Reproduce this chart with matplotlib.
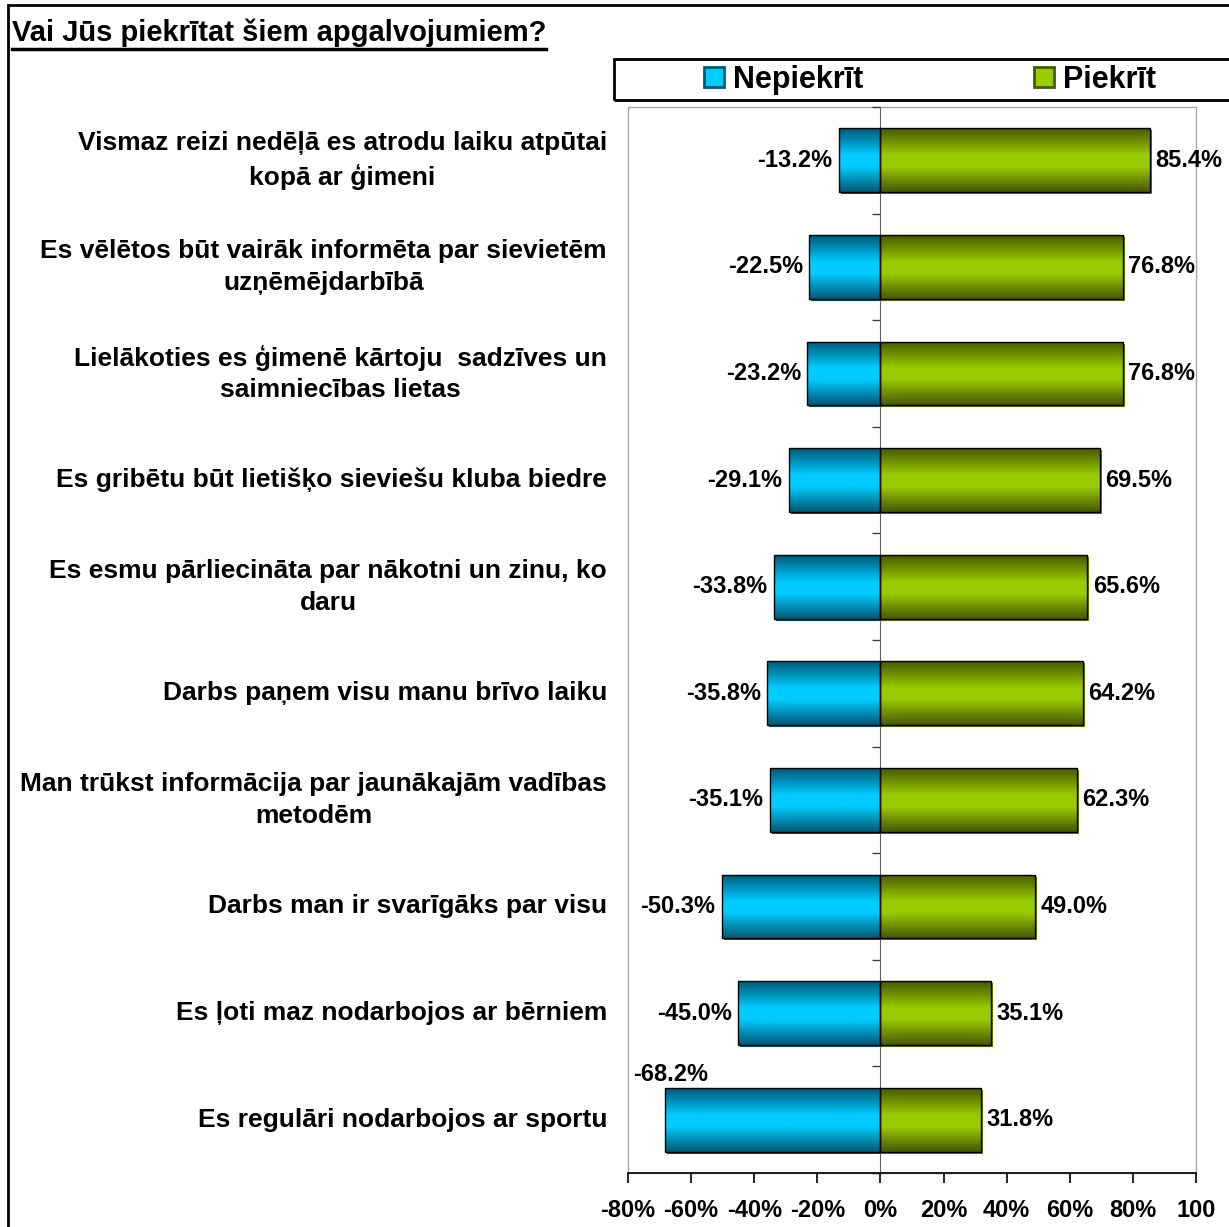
import matplotlib
matplotlib.use('Agg')
import matplotlib.pyplot as plt
import numpy as np
from matplotlib.colors import LinearSegmentedColormap
from matplotlib.patches import Rectangle, Patch
from matplotlib.lines import Line2D
from matplotlib import transforms

plt.rcParams['font.family'] = ['Liberation Sans', 'DejaVu Sans']
plt.rcParams['font.weight'] = 'bold'

title = 'Vai Jūs piekrītat šiem apgalvojumiem?'
statements = [
    'Vismaz reizi nedēļā es atrodu laiku atpūtai\nkopā ar ģimeni',
    'Es vēlētos būt vairāk informēta par sievietēm\nuzņēmējdarbībā',
    'Lielākoties es ģimenē kārtoju  sadzīves un\nsaimniecības lietas',
    'Es gribētu būt lietišķo sieviešu kluba biedre',
    'Es esmu pārliecināta par nākotni un zinu, ko\ndaru',
    'Darbs paņem visu manu brīvo laiku',
    'Man trūkst informācija par jaunākajām vadības\nmetodēm',
    'Darbs man ir svarīgāks par visu',
    'Es ļoti maz nodarbojos ar bērniem',
    'Es regulāri nodarbojos ar sportu',
]
disagree = [-13.2, -22.5, -23.2, -29.1, -33.8, -35.8, -35.1, -50.3, -45.0, -68.2]
agree = [85.4, 76.8, 76.8, 69.5, 65.6, 64.2, 62.3, 49.0, 35.1, 31.8]
series_names = ['Nepiekrīt', 'Piekrīt']
x_ticks = [-80, -60, -40, -20, 0, 20, 40, 60, 80, 100]
x_tick_labels = ['-80%', '-60%', '-40%', '-20%', '0%', '20%', '40%', '60%', '80%', '100']

blue_dark, blue_light = '#005a78', '#00ccff'
green_dark, green_light = '#4a5800', '#99cc00'

W, H = 1229, 1227
fig = plt.figure(figsize=(W / 100, H / 100), dpi=100, facecolor='white')
ax = fig.add_axes([628 / W, 1 - 1173 / H, (1196 - 628) / W, (1173 - 107) / H])

y = np.arange(len(statements))
bar_h = 0.6


def gradient_fill(bars, dark, light):
    # dark top and bottom, bright band a little above the middle
    cmap = LinearSegmentedColormap.from_list(
        'band', [(0, dark), (0.4, light), (0.58, light), (1, dark)])
    prof = np.linspace(0, 1, 64)[:, None]
    for bar in bars:
        x0, y0 = bar.get_x(), bar.get_y()
        img = ax.imshow(prof, cmap=cmap, aspect='auto', interpolation='bilinear',
                        extent=(x0, x0 + bar.get_width(), y0 + bar.get_height(), y0),
                        origin='lower', zorder=2.5)
        img.set_clip_path(bar)


# drop shadow, shifted right/down by 2 px
shadow = transforms.offset_copy(ax.transData, fig=fig, x=2, y=-2, units='dots')
ax.barh(y, disagree, height=bar_h, color=blue_dark, transform=shadow, zorder=2)
ax.barh(y, agree, height=bar_h, color='#667f00', transform=shadow, zorder=2)

neg_bars = ax.barh(y, disagree, height=bar_h, facecolor='none', edgecolor='black',
                   linewidth=1, zorder=3)
pos_bars = ax.barh(y, agree, height=bar_h, facecolor='none', edgecolor='black',
                   linewidth=1, zorder=3)
gradient_fill(neg_bars, blue_dark, blue_light)
gradient_fill(pos_bars, green_dark, green_light)

ax.set_xlim(-80, 100)
ax.set_ylim(len(statements) - 0.5, -0.5)

# value labels
for i, v in enumerate(disagree):
    if v - 25 < ax.get_xlim()[0]:
        ax.annotate(f'{v:.1f}%', xy=(ax.get_xlim()[0], i - bar_h / 2), xytext=(4, 1),
                    textcoords='offset points', ha='left', va='bottom', fontsize=17)
    else:
        ax.annotate(f'{v:.1f}%', xy=(v, i), xytext=(-4.5, 0), textcoords='offset points',
                    ha='right', va='center', fontsize=17)
for i, v in enumerate(agree):
    ax.annotate(f'{v:.1f}%', xy=(v, i), xytext=(4, 0), textcoords='offset points',
                ha='left', va='center', fontsize=17)

# category labels
lbl_tr = transforms.blended_transform_factory(fig.transFigure, ax.transData)
for i, s in enumerate(statements):
    ax.text(607 / W, i, s, transform=lbl_tr, ha='right', va='center',
            multialignment='center', fontsize=19, linespacing=1.4, clip_on=False)

# axes: zero line carries the category ticks, grey frame around the plot
for side in ['top', 'right']:
    ax.spines[side].set_visible(False)
ax.spines['left'].set_position(('data', 0))
ax.spines['left'].set_color('#606060')
ax.spines['bottom'].set_linewidth(1.2)
ax.set_yticks(np.arange(-0.5, len(statements), 1))
ax.set_yticklabels([])
ax.tick_params(axis='y', length=6, width=1, color='#404040')
ax.set_xticks(x_ticks)
ax.set_xticklabels(x_tick_labels, fontsize=17)
ax.tick_params(axis='x', length=7, width=1.2, pad=12)
ax.add_patch(Rectangle((0, 0), 1, 1, transform=ax.transAxes, fill=False,
                       edgecolor='#a6a6a6', linewidth=1, clip_on=False, zorder=0))

# legend
handles = [Patch(facecolor=blue_light, edgecolor=blue_dark, linewidth=2),
           Patch(facecolor=green_light, edgecolor=green_dark, linewidth=2)]
fig.legend(handles, series_names, loc='center', bbox_to_anchor=(930 / W, 1 - 80 / H),
           ncol=2, frameon=False, fontsize=22, handlelength=0.65, handleheight=0.65,
           handletextpad=0.3, columnspacing=5.6)
fig.add_artist(Rectangle((614 / W, 1 - 100 / H), 1, 41 / H, transform=fig.transFigure,
                         fill=False, edgecolor='black', linewidth=2))

# outer border
fig.add_artist(Rectangle((8 / W, -0.1), 1.2, 1.1 - 5 / H, transform=fig.transFigure,
                         fill=False, edgecolor='black', linewidth=2))

# underlined title
t = fig.text(12 / W, 1 - 33 / H, title, fontsize=21, ha='left', va='center')
fig.canvas.draw()
bb = t.get_window_extent()
fig.add_artist(Line2D([bb.x0 / W, bb.x1 / W], [1 - 49 / H] * 2, transform=fig.transFigure,
                      color='black', linewidth=2.5))

fig.savefig('out.png', dpi=100, facecolor='white')
